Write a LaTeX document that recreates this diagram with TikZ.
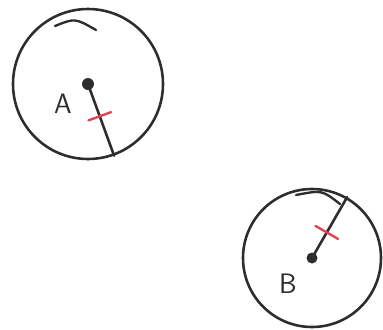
\documentclass[tikz,border=0pt]{standalone}
\usepackage{xcolor}
\usepackage{tikz}
\usetikzlibrary{calc}

\definecolor{tickred}{RGB}{232,62,82}
\definecolor{pencil}{RGB}{45,45,45}

\begin{document}
\begin{tikzpicture}[
  x=0.3mm, y=-0.3mm,
  disc/.style={draw=pencil, circle, line width=2.2pt, inner sep=0pt},
  spoke/.style={draw=pencil, line width=2.2pt, line cap=round},
  tick/.style={draw=tickred, line width=2pt, line cap=round},
  lbl/.style={font=\sffamily\fontsize{24}{24}\selectfont, text=pencil}
]
\useasboundingbox (0,0) rectangle (383,329);

% ---- Circle A ----
\node[disc, minimum size=45mm] (circA) at (88,84) {};
\fill[pencil] (circA.center) circle (6);
\draw[spoke] (circA.center) -- (circA.-70);
\draw[pencil, line width=2pt, line cap=round] (55,26) .. controls (75,18) .. (96,30);
\coordinate (markA) at ($(circA.center)!0.45!(circA.-70)$);
\draw[tick] ($(markA)!3.6mm!90:(circA.-70)$) -- ($(markA)!3.6mm!-90:(circA.-70)$);
\node[lbl] (labA) at (63,104) {A};

% ---- Circle B ----
\node[disc, minimum size=41.4mm] (circB) at (312,258) {};
\fill[pencil] (circB.center) circle (5.5);
\draw[spoke] (circB.center) -- (circB.60);
\draw[pencil, line width=2pt, line cap=round] (296,195) .. controls (322,190) .. (340,204);
\coordinate (markB) at ($(circB.center)!0.42!(circB.60)$);
\draw[tick] ($(markB)!3.9mm!90:(circB.60)$) -- ($(markB)!3.9mm!-90:(circB.60)$);
\node[lbl] (labB) at (288,284) {B};
\end{tikzpicture}
\end{document}
